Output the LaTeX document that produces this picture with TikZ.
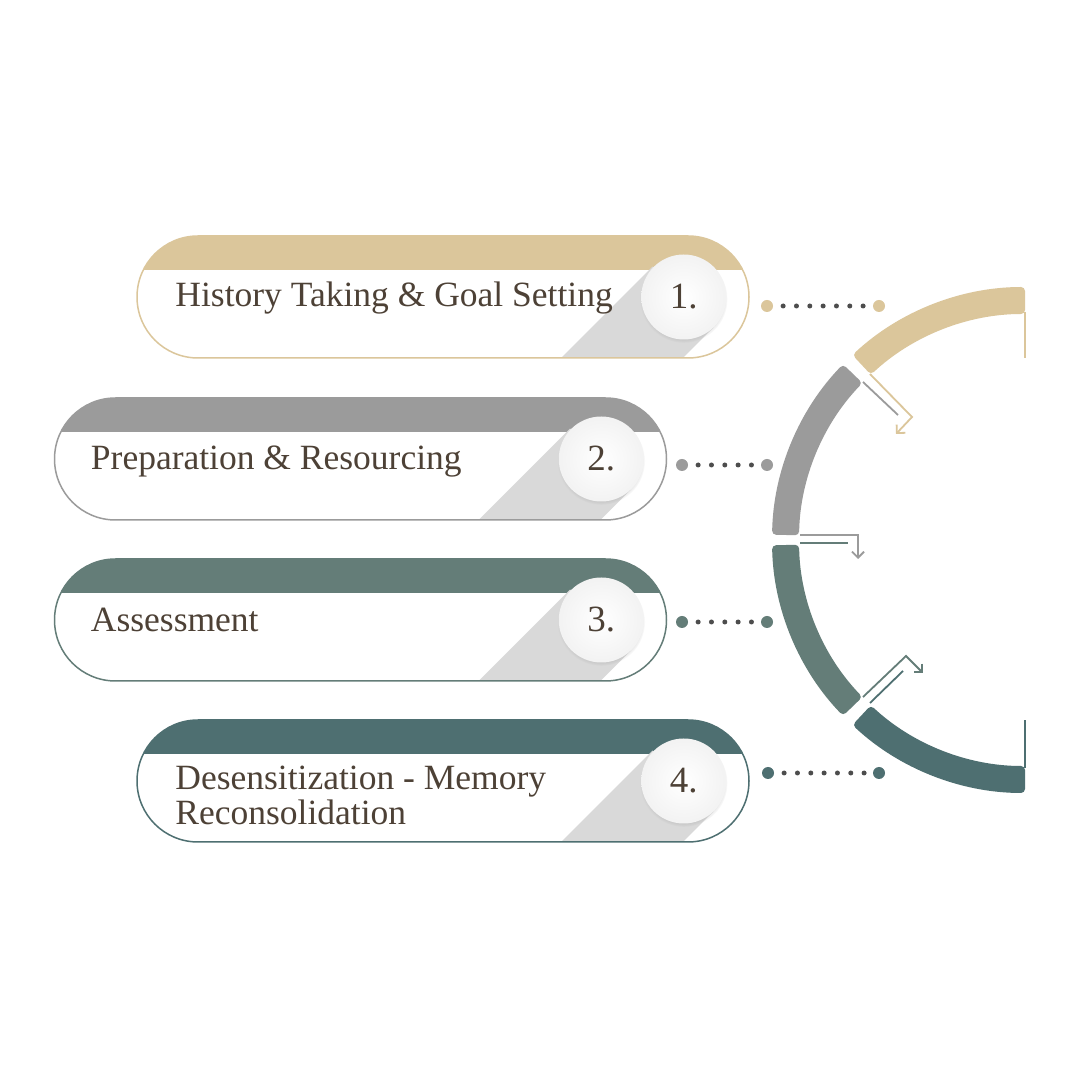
\documentclass[tikz,border=0pt]{standalone}
\usepackage{fontspec}
\setmainfont{Liberation Serif}
\usetikzlibrary{arrows.meta,shadows}

\definecolor{sand}{HTML}{DBC69B}
\definecolor{stone}{HTML}{9B9B9B}
\definecolor{sage}{HTML}{647D78}
\definecolor{pine}{HTML}{4E6F71}
\definecolor{ink}{HTML}{4D4136}
\definecolor{dotgray}{HTML}{4D4D4D}
\definecolor{shadowgray}{HTML}{D9D9D9}

\tikzset{
  pill/.style={rectangle, rounded corners=61pt, minimum width=612pt, minimum height=122pt,
    inner sep=0pt, draw=#1, line width=1.5pt, fill=white,
    path picture={
      \fill[#1, sharp corners] (path picture bounding box.north west)
        rectangle ([yshift=-34pt]path picture bounding box.north east);
      \fill[shadowgray, sharp corners] ([shift={(-35.6pt,-30.4pt)}]path picture bounding box.east)
        -- ++(-150pt,-150pt) -- ++(-60.8pt,60.8pt) -- ++(150pt,150pt) -- cycle;
    }},
  numdisk/.style={circle, minimum size=85pt, inner sep=0pt, text=ink,
    font=\fontsize{37}{37}\selectfont,
    circular drop shadow={shadow xshift=0pt, shadow yshift=-2pt, shadow scale=1.03, opacity=.3},
    path picture={\shade[inner color=white, outer color=gray!10]
      (path picture bounding box.center) circle (43pt);}},
  lbl/.style={anchor=base west, inner sep=0pt, align=left, text=ink,
    font=\fontsize{35.5}{35}\selectfont},
  bigdot/.style={circle, fill=#1, minimum size=12pt, inner sep=0pt},
  dotline/.style={draw=dotgray, line width=5pt, line cap=round,
    dash pattern=on 0pt off 13.33pt, dash phase=3.4pt},
  flow/.style={draw=#1, line width=1.8pt, line join=miter},
  turn/.style={flow=#1, -{Straight Barb[length=6pt,width=12pt]}},
  band/.style={fill=#1, rounded corners=4pt}
}

\begin{document}
\begin{tikzpicture}[x=1pt, y=1pt]
  \useasboundingbox[fill=white] (0,0) rectangle (1080,1080);

  % step pills
  \node[pill=sand]  (p1) at (443,783) {};
  \node[pill=stone] (p2) at (360.5,621) {};
  \node[pill=sage]  (p3) at (360.5,460) {};
  \node[pill=pine]  (p4) at (443,299) {};

  \node[lbl] (t1) at ([shift={(39,-10)}]p1.west) {History Taking \& Goal Setting};
  \node[lbl] (t2) at ([shift={(37,-11)}]p2.west) {Preparation \& Resourcing};
  \node[lbl] (t3) at ([shift={(37,-12)}]p3.west) {Assessment};
  \node[lbl] (t4) at ([shift={(39,-44)}]p4.west) {Desensitization - Memory\\Reconsolidation};

  \node[numdisk] (n1) at ([xshift=-66pt]p1.east) {1.};
  \node[numdisk] (n2) at ([xshift=-66pt]p2.east) {2.};
  \node[numdisk] (n3) at ([xshift=-66pt]p3.east) {3.};
  \node[numdisk] (n4) at ([xshift=-66pt]p4.east) {4.};

  % dotted leaders
  \node[bigdot=sand]  (a1) at (767,774) {};
  \node[bigdot=sand]  (b1) at (879,774) {};
  \node[bigdot=stone] (a2) at (682,615) {};
  \node[bigdot=stone] (b2) at (767,615) {};
  \node[bigdot=sage]  (a3) at (682,458) {};
  \node[bigdot=sage]  (b3) at (767,458) {};
  \node[bigdot=pine]  (a4) at (768,307) {};
  \node[bigdot=pine]  (b4) at (879,307) {};
  \foreach \i in {1,...,4}
    \draw[dotline] (a\i) -- (b\i);

  % cycle arcs
  \begin{scope}[shift={(1025,540)}]
    \fill[band=sand]  (90:253) arc[start angle=90, end angle=133, radius=253]
      -- (133:226) arc[start angle=133, end angle=90, radius=226] -- cycle;
    \fill[band=stone] (136:253) arc[start angle=136, end angle=178.8, radius=253]
      -- (178.8:226) arc[start angle=178.8, end angle=136, radius=226] -- cycle;
    \fill[band=sage]  (181.2:253) arc[start angle=181.2, end angle=224, radius=253]
      -- (224:226) arc[start angle=224, end angle=181.2, radius=226] -- cycle;
    \fill[band=pine]  (227:253) arc[start angle=227, end angle=270, radius=253]
      -- (270:226) arc[start angle=270, end angle=227, radius=226] -- cycle;
  \end{scope}

  % arc tails and turn arrows
  \coordinate (s0) at (1025,768);  \coordinate (s1) at (1025,722);
  \coordinate (k0) at (1025,312);  \coordinate (k1) at (1025,360);
  \draw[flow=sand] (s0) -- (s1);
  \draw[flow=pine] (k0) -- (k1);

  \coordinate (g0) at (870,706);  \coordinate (g1) at (912,663);  \coordinate (g2) at (896,646);
  \coordinate (h0) at (863,698);  \coordinate (h1) at (898,665);
  \draw[flow=stone] (h0) -- (h1);
  \draw[turn=sand] (g0) -- (g1) -- (g2);

  \coordinate (r0) at (800,545);  \coordinate (r1) at (858,545);  \coordinate (r2) at (858,521);
  \coordinate (q0) at (800,537);  \coordinate (q1) at (848,537);
  \draw[flow=sage] (q0) -- (q1);
  \draw[turn=stone] (r0) -- (r1) -- (r2);

  \coordinate (m0) at (863,383);  \coordinate (m1) at (906,424);  \coordinate (m2) at (923,407);
  \coordinate (w0) at (870,377);  \coordinate (w1) at (903,409);
  \draw[flow=pine] (w0) -- (w1);
  \draw[turn=sage] (m0) -- (m1) -- (m2);
\end{tikzpicture}
\end{document}
